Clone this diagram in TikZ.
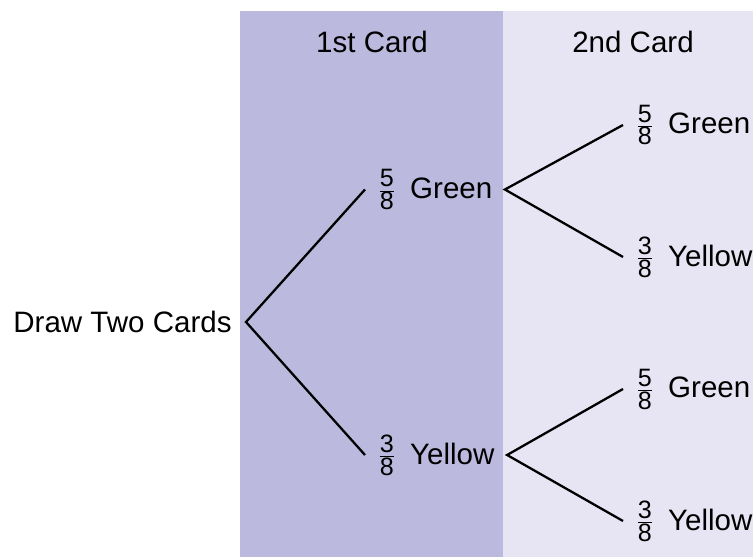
\documentclass[tikz,border=0pt]{standalone}
\usepackage{fontspec}
\setmainfont{Liberation Sans}
\definecolor{panelA}{RGB}{188,185,222}
\definecolor{panelB}{RGB}{231,229,243}
\newcommand{\frsize}{\fontsize{14.3}{15}\selectfont}
\newcommand{\fr}[2]{$\frac{\hbox{\frsize #1}}{\hbox{\frsize #2}}$\hspace{3.5pt}}
\begin{document}
\begin{tikzpicture}[font=\fontsize{16.8}{20}\selectfont]
    \tikzset{leaf/.style={anchor=west,inner sep=7pt},
      branch/.style={line width=1.3pt}}
    \useasboundingbox (0,0) rectangle (15.06,11.14);
    % panels
    \fill[panelA] (4.8,0) rectangle (10.06,10.92);
    \fill[panelB] (10.06,0) rectangle (15.06,10.92);
    \node (hd1) at (7.44,10.3) {1st Card};
    \node (hd2) at (12.66,10.3) {2nd Card};
    % root
    \node[anchor=east,inner sep=8pt] (root) at (4.92,4.7) {Draw Two Cards};
    % first draw
    \node[leaf] (g1) at (7.3,7.35) {\fr{5}{8} Green};
    \node[leaf] (y1) at (7.3,2.04) {\fr{3}{8} Yellow};
    % second draw
    \node[leaf] (gg) at (12.46,8.64) {\fr{5}{8} Green};
    \node[leaf] (gy) at (12.46,6.0) {\fr{3}{8} Yellow};
    \node[leaf] (yg) at (12.46,3.36) {\fr{5}{8} Green};
    \node[leaf] (yy) at (12.46,0.72) {\fr{3}{8} Yellow};
    % branches
    \draw[branch] (g1.west) -- (root.east) -- (y1.west);
    \draw[branch] (gg.west) -- (g1.east) -- (gy.west);
    \draw[branch] (yg.west) -- (y1.east) -- (yy.west);
\end{tikzpicture}
\end{document}
